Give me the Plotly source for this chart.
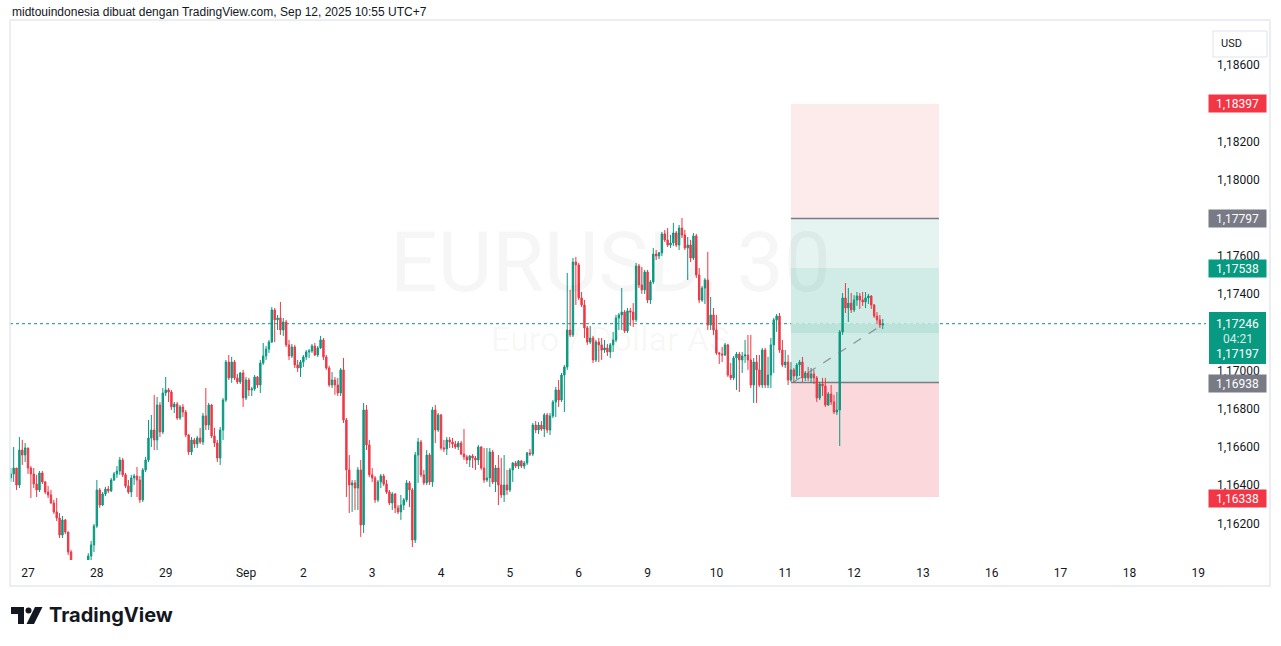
import plotly.graph_objects as go

# ---------------- data (EURUSD 1h bars) ----------------
# x = trading-hour index, 0 = 27 Aug 00:00 (UTC+7), weekend hours removed
hours = list(range(-6, 299))
first_open = 1.16438
closes = [
    1.16459, 1.16490, 1.16401, 1.16584, 1.16558, 1.16595, 1.16490, 1.16459, 1.16406, 1.16375,
    1.16464, 1.16417, 1.16364, 1.16349, 1.16307, 1.16260, 1.16228, 1.16139, 1.16218, 1.16155,
    1.16050, 1.15982, 1.15903, 1.15825, 1.15772, 1.15809, 1.15877, 1.16029, 1.16087, 1.16186,
    1.16375, 1.16296, 1.16354, 1.16380, 1.16370, 1.16427, 1.16459, 1.16474, 1.16532, 1.16454,
    1.16396, 1.16364, 1.16438, 1.16448, 1.16427, 1.16323, 1.16480, 1.16532, 1.16647, 1.16689,
    1.16637, 1.16820, 1.16679, 1.16883, 1.16899, 1.16888, 1.16810, 1.16825, 1.16752, 1.16810,
    1.16783, 1.16663, 1.16574, 1.16637, 1.16616, 1.16647, 1.16626, 1.16763, 1.16715, 1.16820,
    1.16658, 1.16621, 1.16542, 1.16689, 1.16846, 1.17045, 1.16962, 1.17045, 1.16962, 1.16941,
    1.16988, 1.16857, 1.16951, 1.16899, 1.16904, 1.16967, 1.16925, 1.17040, 1.17077, 1.17113,
    1.17150, 1.17318, 1.17266, 1.17276, 1.17213, 1.17255, 1.17135, 1.17077, 1.17124, 1.17030,
    1.17014, 1.17045, 1.17072, 1.17098, 1.17103, 1.17129, 1.17082, 1.17119, 1.17161, 1.17072,
    1.17014, 1.16925, 1.16951, 1.16925, 1.16883, 1.17004, 1.16742, 1.16480, 1.16401, 1.16412,
    1.16385, 1.16480, 1.16192, 1.16794, 1.16611, 1.16454, 1.16438, 1.16323, 1.16417, 1.16448,
    1.16406, 1.16364, 1.16307, 1.16354, 1.16281, 1.16260, 1.16296, 1.16323, 1.16412, 1.16375,
    1.16113, 1.16558, 1.16626, 1.16454, 1.16412, 1.16558, 1.16417, 1.16794, 1.16689, 1.16768,
    1.16595, 1.16590, 1.16637, 1.16626, 1.16616, 1.16600, 1.16621, 1.16563, 1.16548, 1.16532,
    1.16553, 1.16542, 1.16532, 1.16600, 1.16490, 1.16427, 1.16438, 1.16574, 1.16417, 1.16490,
    1.16401, 1.16349, 1.16401, 1.16375, 1.16480, 1.16516, 1.16500, 1.16527, 1.16500, 1.16516,
    1.16569, 1.16563, 1.16715, 1.16689, 1.16715, 1.16694, 1.16768, 1.16689, 1.16763, 1.16836,
    1.16899, 1.16846, 1.16977, 1.17019, 1.17213, 1.17187, 1.17569, 1.17554, 1.17381, 1.17344,
    1.17224, 1.17150, 1.17171, 1.17056, 1.17150, 1.17135, 1.17108, 1.17119, 1.17098, 1.17135,
    1.17161, 1.17276, 1.17292, 1.17307, 1.17208, 1.17313, 1.17307, 1.17266, 1.17548, 1.17449,
    1.17423, 1.17517, 1.17370, 1.17465, 1.17611, 1.17601, 1.17617, 1.17716, 1.17685, 1.17658,
    1.17669, 1.17721, 1.17658, 1.17747, 1.17711, 1.17643, 1.17658, 1.17590, 1.17706, 1.17501,
    1.17370, 1.17433, 1.17475, 1.17239, 1.17292, 1.17213, 1.17093, 1.17087, 1.17082, 1.17135,
    1.16977, 1.16962, 1.17066, 1.17087, 1.17056, 1.17077, 1.17082, 1.17056, 1.16925, 1.17045,
    1.17004, 1.16925, 1.17108, 1.16925, 1.16977, 1.17135, 1.17266, 1.17286, 1.17108, 1.17030,
    1.17045, 1.16951, 1.17004, 1.16972, 1.17030, 1.17045, 1.16962, 1.16988, 1.16962, 1.16983,
    1.16962, 1.16857, 1.16930, 1.16920, 1.16820, 1.16878, 1.16836, 1.16783, 1.16794, 1.17203,
    1.17381, 1.17328, 1.17354, 1.17318, 1.17370, 1.17391, 1.17370, 1.17360, 1.17381, 1.17391,
    1.17344, 1.17286, 1.17266, 1.17239, 1.17246,
]
highs = [
    1.16490, 1.16600, 1.16490, 1.16652, 1.16637, 1.16621, 1.16595, 1.16500, 1.16490, 1.16454,
    1.16474, 1.16474, 1.16422, 1.16396, 1.16375, 1.16323, 1.16333, 1.16254, 1.16239, 1.16223,
    1.16155, 1.16061, 1.15998, 1.15930, 1.15851, 1.15841, 1.15903, 1.16044, 1.16108, 1.16197,
    1.16427, 1.16385, 1.16364, 1.16391, 1.16396, 1.16438, 1.16469, 1.16500, 1.16548, 1.16542,
    1.16464, 1.16427, 1.16454, 1.16459, 1.16495, 1.16448, 1.16490, 1.16548, 1.16742, 1.16768,
    1.16873, 1.16862, 1.16836, 1.16909, 1.16967, 1.16909, 1.16899, 1.16836, 1.16836, 1.16820,
    1.16825, 1.16794, 1.16668, 1.16652, 1.16647, 1.16658, 1.16700, 1.16778, 1.16909, 1.16831,
    1.16825, 1.16700, 1.16637, 1.16705, 1.16857, 1.17056, 1.17082, 1.17072, 1.17056, 1.16983,
    1.16993, 1.17004, 1.16967, 1.16962, 1.16915, 1.16977, 1.16972, 1.17056, 1.17145, 1.17129,
    1.17161, 1.17333, 1.17328, 1.17292, 1.17360, 1.17276, 1.17266, 1.17161, 1.17140, 1.17135,
    1.17056, 1.17056, 1.17082, 1.17108, 1.17113, 1.17140, 1.17145, 1.17129, 1.17182, 1.17171,
    1.17082, 1.17025, 1.16993, 1.16967, 1.16962, 1.17014, 1.17066, 1.16752, 1.16558, 1.16427,
    1.16427, 1.16495, 1.16532, 1.16831, 1.16820, 1.16637, 1.16490, 1.16448, 1.16427, 1.16459,
    1.16459, 1.16427, 1.16375, 1.16364, 1.16359, 1.16296, 1.16349, 1.16333, 1.16427, 1.16422,
    1.16385, 1.16574, 1.16647, 1.16637, 1.16480, 1.16584, 1.16569, 1.16810, 1.16820, 1.16778,
    1.16773, 1.16637, 1.16652, 1.16652, 1.16647, 1.16632, 1.16632, 1.16632, 1.16694, 1.16558,
    1.16558, 1.16563, 1.16553, 1.16611, 1.16605, 1.16595, 1.16595, 1.16595, 1.16584, 1.16506,
    1.16558, 1.16542, 1.16558, 1.16480, 1.16490, 1.16521, 1.16527, 1.16532, 1.16532, 1.16527,
    1.16574, 1.16590, 1.16726, 1.16736, 1.16731, 1.16736, 1.16778, 1.16778, 1.16778, 1.16846,
    1.16915, 1.16951, 1.16988, 1.17030, 1.17512, 1.17423, 1.17590, 1.17596, 1.17564, 1.17412,
    1.17370, 1.17234, 1.17234, 1.17182, 1.17161, 1.17171, 1.17171, 1.17161, 1.17140, 1.17145,
    1.17203, 1.17292, 1.17302, 1.17433, 1.17318, 1.17328, 1.17328, 1.17354, 1.17564, 1.17559,
    1.17543, 1.17528, 1.17528, 1.17475, 1.17643, 1.17632, 1.17622, 1.17727, 1.17737, 1.17747,
    1.17711, 1.17774, 1.17732, 1.17763, 1.17800, 1.17737, 1.17700, 1.17685, 1.17721, 1.17716,
    1.17538, 1.17444, 1.17485, 1.17622, 1.17386, 1.17328, 1.17292, 1.17098, 1.17124, 1.17145,
    1.17140, 1.17040, 1.17077, 1.17098, 1.17098, 1.17098, 1.17161, 1.17187, 1.17187, 1.17066,
    1.17082, 1.17082, 1.17119, 1.17119, 1.17072, 1.17171, 1.17276, 1.17297, 1.17302, 1.17161,
    1.17108, 1.17082, 1.17045, 1.17014, 1.17040, 1.17056, 1.17072, 1.16998, 1.17019, 1.17014,
    1.17004, 1.16972, 1.16941, 1.16962, 1.16962, 1.16888, 1.16925, 1.16873, 1.16888, 1.17213,
    1.17407, 1.17459, 1.17433, 1.17407, 1.17396, 1.17412, 1.17407, 1.17412, 1.17412, 1.17402,
    1.17396, 1.17349, 1.17307, 1.17292, 1.17271,
]
lows = [
    1.16417, 1.16417, 1.16375, 1.16385, 1.16506, 1.16521, 1.16459, 1.16333, 1.16385, 1.16338,
    1.16364, 1.16406, 1.16354, 1.16333, 1.16302, 1.16249, 1.16212, 1.16123, 1.16123, 1.16144,
    1.16034, 1.15956, 1.15877, 1.15799, 1.15741, 1.15757, 1.15799, 1.15851, 1.16008, 1.16050,
    1.16176, 1.16281, 1.16291, 1.16343, 1.16359, 1.16364, 1.16422, 1.16438, 1.16454, 1.16443,
    1.16385, 1.16354, 1.16338, 1.16401, 1.16338, 1.16307, 1.16312, 1.16469, 1.16521, 1.16600,
    1.16584, 1.16584, 1.16652, 1.16668, 1.16867, 1.16836, 1.16794, 1.16778, 1.16742, 1.16742,
    1.16757, 1.16652, 1.16558, 1.16558, 1.16595, 1.16595, 1.16616, 1.16611, 1.16689, 1.16689,
    1.16647, 1.16600, 1.16521, 1.16506, 1.16637, 1.16836, 1.16951, 1.16936, 1.16951, 1.16930,
    1.16930, 1.16810, 1.16846, 1.16867, 1.16867, 1.16894, 1.16909, 1.16883, 1.17030, 1.17056,
    1.17093, 1.17145, 1.17150, 1.17213, 1.17187, 1.17182, 1.17124, 1.17056, 1.17066, 1.17014,
    1.16993, 1.16967, 1.17019, 1.17056, 1.17066, 1.17093, 1.17077, 1.17072, 1.17113, 1.17056,
    1.17004, 1.16915, 1.16909, 1.16873, 1.16867, 1.16867, 1.16726, 1.16338, 1.16254, 1.16260,
    1.16270, 1.16270, 1.16129, 1.16150, 1.16584, 1.16443, 1.16417, 1.16307, 1.16312, 1.16385,
    1.16396, 1.16354, 1.16296, 1.16270, 1.16254, 1.16249, 1.16218, 1.16270, 1.16312, 1.16286,
    1.16076, 1.16097, 1.16412, 1.16443, 1.16401, 1.16401, 1.16401, 1.16391, 1.16621, 1.16679,
    1.16584, 1.16574, 1.16558, 1.16595, 1.16595, 1.16590, 1.16584, 1.16558, 1.16532, 1.16511,
    1.16495, 1.16490, 1.16480, 1.16506, 1.16480, 1.16412, 1.16417, 1.16391, 1.16406, 1.16364,
    1.16296, 1.16333, 1.16312, 1.16349, 1.16364, 1.16417, 1.16490, 1.16485, 1.16490, 1.16485,
    1.16506, 1.16553, 1.16553, 1.16673, 1.16668, 1.16684, 1.16652, 1.16673, 1.16663, 1.16752,
    1.16757, 1.16810, 1.16836, 1.16783, 1.17004, 1.17176, 1.17176, 1.17344, 1.17370, 1.17333,
    1.17171, 1.17135, 1.17140, 1.17040, 1.17045, 1.17045, 1.17056, 1.17093, 1.17077, 1.17066,
    1.17098, 1.17150, 1.17213, 1.17213, 1.17197, 1.17197, 1.17234, 1.17229, 1.17255, 1.17433,
    1.17402, 1.17402, 1.17354, 1.17349, 1.17454, 1.17580, 1.17585, 1.17601, 1.17674, 1.17648,
    1.17643, 1.17653, 1.17648, 1.17632, 1.17695, 1.17632, 1.17475, 1.17569, 1.17580, 1.17485,
    1.17354, 1.17360, 1.17349, 1.17213, 1.17213, 1.17187, 1.17082, 1.17035, 1.17045, 1.17077,
    1.16967, 1.16951, 1.16951, 1.16899, 1.16888, 1.16988, 1.17040, 1.17004, 1.16909, 1.16831,
    1.16831, 1.16915, 1.16909, 1.16909, 1.16909, 1.16909, 1.16988, 1.17203, 1.17093, 1.17019,
    1.17014, 1.16925, 1.16941, 1.16936, 1.16956, 1.16972, 1.16941, 1.16946, 1.16946, 1.16936,
    1.16930, 1.16836, 1.16846, 1.16867, 1.16810, 1.16815, 1.16820, 1.16773, 1.16768, 1.16605,
    1.17187, 1.17302, 1.17255, 1.17302, 1.17307, 1.17339, 1.17323, 1.17339, 1.17328, 1.17349,
    1.17323, 1.17276, 1.17245, 1.17224, 1.17218,
]
opens = [first_open] + closes[:-1]

day_ticks = [0, 24, 48, 76, 96, 120, 144, 168, 192, 216, 240, 264, 288, 312, 336, 360, 384, 408]
day_labels = ["27", "28", "29", "Sep", "2", "3", "4", "5", "6", "9", "10", "11", "12",
              "13", "16", "17", "18", "19"]
price_ticks = [1.162, 1.164, 1.166, 1.168, 1.170, 1.174, 1.176, 1.180, 1.182, 1.186]
price_tick_labels = ["1,16200", "1,16400", "1,16600", "1,16800", "1,17000", "1,17400",
                     "1,17600", "1,18000", "1,18200", "1,18600"]

# position tools (short + long) and current price
short_entry, short_stop, short_target = 1.17797, 1.18397, 1.17197
long_entry, long_stop, long_target = 1.16938, 1.16338, 1.17538
last_price = 1.17246
countdown = "04:21"
tool_start, tool_end = 266.0, 317.6
tool_line_start, tool_line_end = 266.7, 298.5

# ---------------- layout helpers (pixel -> paper) ----------------
W, H = 1281, 646
PL, PR, PT, PB = 10, 1206, 20, 560


def pxx(px):
    return (px - PL) / (PR - PL)


def pxy(py):
    return (PB - py) / (PB - PT)


GREEN = "#089981"
RED = "#f23645"
GREY = "#787b86"
TEXT = "#131722"
FONT = "Roboto, Liberation Sans, sans-serif"

fig = go.Figure()
fig.add_trace(go.Candlestick(
    x=hours, open=opens, high=highs, low=lows, close=closes,
    increasing=dict(line=dict(color=GREEN, width=1), fillcolor=GREEN),
    decreasing=dict(line=dict(color=RED, width=1), fillcolor=RED),
    whiskerwidth=0, hoverinfo="skip", showlegend=False,
))

shapes = []


def zone(y0, y1, color):
    shapes.append(dict(type="rect", xref="x", yref="y", x0=tool_start, x1=tool_end,
                       y0=y0, y1=y1, fillcolor=color, line=dict(width=0), layer="below"))


zone(short_entry, short_stop, "#fdebec")
zone(long_target, short_entry, "#e5f4f1")
zone(last_price, long_target, "#d1ece6")
zone(short_target, last_price, "#bce3da")
zone(long_entry, short_target, "#d1ece6")
zone(long_stop, long_entry, "#fad8db")
for lvl in (short_entry, long_entry):
    shapes.append(dict(type="line", xref="x", yref="y", x0=tool_start, x1=tool_end,
                       y0=lvl, y1=lvl, line=dict(color=GREY, width=1.5), layer="below"))
# current price dotted line
shapes.append(dict(type="line", xref="paper", yref="y", x0=0, x1=1, y0=last_price, y1=last_price,
                   line=dict(color=GREEN, width=1, dash="dot"), layer="below"))
# dashed line entry -> current price
shapes.append(dict(type="line", xref="x", yref="y", x0=tool_line_start, x1=tool_line_end,
                   y0=long_entry, y1=last_price,
                   line=dict(color="rgba(120,123,134,0.8)", width=1.2, dash="dash"), layer="above"))
# outer frame
shapes.append(dict(type="rect", xref="paper", yref="paper", x0=pxx(10), x1=pxx(1270),
                   y0=pxy(586), y1=pxy(20), line=dict(color="#e6e9ef", width=1.5)))
# USD button
shapes.append(dict(type="rect", xref="paper", yref="paper", x0=pxx(1213), x1=pxx(1267),
                   y0=pxy(57), y1=pxy(31), line=dict(color="#e0e3eb", width=1),
                   fillcolor="white"))
# current price + countdown + target block on the price scale
shapes.append(dict(type="rect", xref="paper", yref="paper", x0=pxx(1209), x1=pxx(1266),
                   y0=pxy(364), y1=pxy(312), fillcolor=GREEN, line=dict(width=0)))
# TradingView logo
shapes.append(dict(type="path", xref="paper", yref="paper",
                   path="M {a},{b} L {c},{b} L {c},{d} L {e},{d} L {e},{f} L {a},{f} Z".format(
                       a=pxx(11), b=pxy(607), c=pxx(24), d=pxy(624), e=pxx(18), f=pxy(614)),
                   fillcolor=TEXT, line=dict(width=0)))
shapes.append(dict(type="circle", xref="paper", yref="paper", x0=pxx(25.5), x1=pxx(31.5),
                   y0=pxy(613.5), y1=pxy(607.5), fillcolor=TEXT, line=dict(width=0)))
shapes.append(dict(type="path", xref="paper", yref="paper",
                   path="M {a},{b} L {c},{b} L {d},{e} L {f},{e} Z".format(
                       a=pxx(35), b=pxy(607), c=pxx(42.5), d=pxx(34), e=pxy(624),
                       f=pxx(26.5)),
                   fillcolor=TEXT, line=dict(width=0)))

annotations = []


def label(price, text, color, shift=0):
    annotations.append(dict(xref="paper", yref="y", x=pxx(1237.5), y=price, text=text,
                            xanchor="center", yanchor="middle", yshift=shift,
                            showarrow=False, bgcolor=color, borderpad=2, width=53, height=13,
                            font=dict(color="white", size=12, family=FONT)))


label(short_stop, "1,18397", RED)
label(short_entry, "1,17797", GREY)
label(long_target, "1,17538", GREEN, shift=-1)
label(long_entry, "1,16938", GREY, shift=-1.5)
label(long_stop, "1,16338", RED, shift=-1)


def ptext(px, py, text, size=12, color=TEXT, xanchor="center", family=FONT):
    annotations.append(dict(xref="paper", yref="paper", x=pxx(px), y=pxy(py), text=text,
                            showarrow=False, xanchor=xanchor, yanchor="middle",
                            font=dict(color=color, size=size, family=family)))


ptext(1237.5, 324, "1,17246", color="white")
ptext(1237.5, 339, countdown, color="rgba(255,255,255,0.85)")
ptext(1237.5, 354, "1,17197", color="white")
ptext(1231, 44, "USD", size=11)
ptext(10, 12, "midtouindonesia dibuat dengan TradingView.com, Sep 12, 2025 10:55 UTC+7",
      size=12, xanchor="left", family="Liberation Sans, Arial, sans-serif")
ptext(47, 615, "<b>TradingView</b>", size=20, xanchor="left",
      family="Inter, Roboto, sans-serif")
# watermark
ptext(610, 262, "EURUSD, 30", size=84, color="rgba(19,23,34,0.04)")
ptext(610, 339, "Euro / Dollar AS", size=34, color="rgba(19,23,34,0.04)")

fig.update_layout(
    width=W, height=H,
    margin=dict(l=PL, r=W - PR, t=PT, b=H - PB),
    paper_bgcolor="white", plot_bgcolor="white",
    shapes=shapes, annotations=annotations,
    showlegend=False, hovermode=False,
    font=dict(family=FONT, color=TEXT, size=12),
    xaxis=dict(range=[-6.28, 410.7], tickmode="array", tickvals=day_ticks, ticktext=day_labels,
               showgrid=False, zeroline=False, showline=False, ticks="",
               rangeslider=dict(visible=False), tickfont=dict(size=12, color=TEXT),
               ticklabelstandoff=4, fixedrange=True),
    yaxis=dict(range=[1.16008, 1.18837], side="right", tickmode="array", tickvals=price_ticks,
               ticktext=price_tick_labels, showgrid=False, zeroline=False, showline=False,
               ticks="", tickfont=dict(size=12, color=TEXT), ticklabelstandoff=10,
               fixedrange=True),
)

fig.write_html("out.html", post_script="document.body.style.margin='0';",
               config={"displayModeBar": False})
